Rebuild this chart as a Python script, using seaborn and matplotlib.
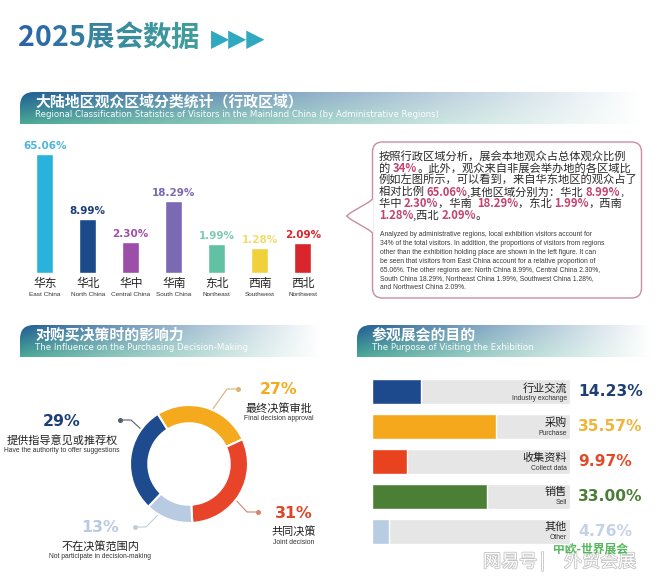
import numpy as np
import seaborn as sns
import matplotlib.pyplot as plt
import matplotlib.patheffects as pe
from matplotlib.patches import FancyBboxPatch, PathPatch
from matplotlib.path import Path
from matplotlib.colors import to_rgb

sns.set_style("white")
plt.rcParams["font.family"] = ["Noto Sans CJK SC", "DejaVu Sans"]

# ---- data ----
region_cn = ["华东", "华北", "华中", "华南", "东北", "西南", "西北"]
region_en = ["East China", "North China", "Central China", "South China",
             "Northeast", "Southwest", "Northwest"]
region_pct = [65.06, 8.99, 2.30, 18.29, 1.99, 1.28, 2.09]
region_colors = ["#29b3dc", "#1b4a8a", "#9b4fa8", "#7b69b3", "#62c1a2", "#f0d13c", "#d8262c"]
region_label_colors = ["#4db6d9", "#1f3f78", "#a04fa8", "#7b69b3", "#7fcab2", "#f2dc6a", "#d8262c"]

decision_cn = ["最终决策审批", "共同决策", "不在决策范围内", "提供指导意见或推荐权"]
decision_en = ["Final decision approval", "Joint decision",
               "Not participate in decision-making", "Have the authority to offer suggestions"]
decision_pct = [27, 31, 13, 29]
decision_colors = ["#f5a91d", "#e8442a", "#b9cbe2", "#1d4b8d"]
decision_label_colors = ["#f5a91d", "#e0432a", "#b9cbe2", "#1d3f78"]
decision_line_colors = ["#d9b473", "#d9826f", "#c4cdd8", "#555f6e"]

purpose_cn = ["行业交流", "采购", "收集资料", "销售", "其他"]
purpose_en = ["Industry exchange", "Purchase", "Collect data", "Sell", "Other"]
purpose_pct = [14.23, 35.57, 9.97, 33.00, 4.76]
purpose_colors = ["#1d4a8c", "#f5a81c", "#e8421e", "#4b7f35", "#b8cce4"]
purpose_label_colors = ["#1f3f72", "#f2b436", "#e14a2a", "#4b7f35", "#c3d2e6"]

HL = "#c4446f"
body_cn = [
    [("按照行政区域分析，展会本地观众占总体观众比例", 0)],
    [("的 ", 0), ("34%", 1), ("。此外，观众来自非展会举办地的各区域比", 0)],
    [("例如左图所示，可以看到，来自华东地区的观众占了", 0)],
    [("相对比例 ", 0), ("65.06%", 1), (",其他区域分别为：华北 ", 0), ("8.99%", 1), (",", 0)],
    [("华中 ", 0), ("2.30%", 1), ("，华南  ", 0), ("18.29%", 1), ("，东北 ", 0), ("1.99%", 1), ("，西南", 0)],
    [("1.28%", 1), (",西北 ", 0), ("2.09%", 1), ("。", 0)],
]
body_en = [
    "Analyzed by administrative regions, local exhibition visitors account for",
    "34% of the total visitors. In addition, the proportions of visitors from regions",
    "other than the exhibition holding place are shown in the left figure. It can",
    "be seen that visitors from East China account for a relative proportion of",
    "65.06%. The other regions are: North China 8.99%, Central China 2.30%,",
    "South China 18.29%, Northeast China 1.99%, Southwest China 1.28%,",
    "and Northwest China 2.09%.",
]

W, H = 660, 582
fig = plt.figure(figsize=(6.6, 5.82), dpi=100)
bg = fig.add_axes([0, 0, 1, 1])
bg.set_xlim(0, W)
bg.set_ylim(H, 0)
bg.axis("off")
renderer = fig.canvas.get_renderer()


def px_axes(x0, y0, x1, y1):
    return fig.add_axes([x0 / W, 1 - y1 / H, (x1 - x0) / W, (y1 - y0) / H])


def rich_text(x, y, parts, size, **kw):
    # draw coloured pieces one after another on the pixel axes
    for s, color, weight in parts:
        t = bg.text(x, y, s, fontsize=size, color=color, fontweight=weight,
                    ha="left", va="center", **kw)
        x += t.get_window_extent(renderer).width
    return x


def banner(x0, y0, x1, y1, title, sub):
    h, w = int(y1 - y0), int(x1 - x0)
    v = np.linspace(0, 1, h)[:, None, None]
    t = np.linspace(0, 1, w)[None, :, None]
    top = np.array(to_rgb("#1d5c92"))
    bot = np.array(to_rgb("#4aa894"))
    base = top * (1 - v) + bot * v
    mix = np.clip(t / 0.97, 0, 1) ** 0.9
    img = np.ones((h, w, 4))
    img[..., :3] = base * (1 - mix) + mix
    r = 14
    verts = [(x0, y1), (x0, y0 + r), (x0, y0), (x0 + r, y0), (x1, y0), (x1, y1), (x0, y1)]
    codes = [Path.MOVETO, Path.LINETO, Path.CURVE3, Path.CURVE3, Path.LINETO,
             Path.LINETO, Path.CLOSEPOLY]
    patch = PathPatch(Path(verts, codes), facecolor="none", edgecolor="none")
    bg.add_patch(patch)
    im = bg.imshow(img, extent=(x0, x1, y1, y0), aspect="auto", zorder=1)
    im.set_clip_path(patch)
    bg.text(x0 + 15, y0 + 10, title, color="white", fontsize=10.7,
            fontweight="bold", va="center", zorder=3)
    bg.text(x0 + 15, y0 + 22.5, sub, color="white", fontsize=6.2,
            family="DejaVu Sans", va="center", zorder=3, alpha=0.95)


# ---- page title ----
title_chars = list("2025展会数据")
c0, c1 = np.array(to_rgb("#2a64a6")), np.array(to_rgb("#3f9c9b"))
parts = []
for k, ch in enumerate(title_chars):
    f = k / (len(title_chars) - 1)
    parts.append((ch, tuple(c0 * (1 - f) + c1 * f), "bold"))
xe = rich_text(18, 38, parts, 20.5)
bg.text(xe + 12, 39, "▶▶▶", color="#30a9c0", fontsize=17, family="DejaVu Sans",
        va="center", ha="left")

# ---- section banners ----
banner(20, 92, 660, 124, "大陆地区观众区域分类统计（行政区域）",
       "Regional Classification Statistics of Visitors in the Mainland China (by Administrative Regions)")
banner(20, 325, 330, 357, "对购买决策时的影响力",
       "The Influence on the Purchasing Decision-Making")
banner(357, 325, 660, 357, "参观展会的目的",
       "The Purpose of Visiting the Exhibition")

# ---- regional bar chart ----
ax1 = px_axes(23.2, 154, 324.2, 273)
sns.barplot(x=region_cn, y=region_pct, hue=region_cn, palette=region_colors,
            legend=False, width=0.4, saturation=1, ax=ax1)
ax1.set_yscale("function", functions=(lambda v: np.sign(v) * np.abs(v) ** 0.4,
                                      lambda v: np.sign(v) * np.abs(v) ** 2.5))
ax1.set_ylim(0, max(region_pct))
ax1.set_xlim(-0.5, len(region_cn) - 0.5)
ax1.axis("off")
for i, v in enumerate(region_pct):
    ax1.annotate(f"{v:.2f}%", (i, v), xytext=(0, 3), textcoords="offset pixels",
                 ha="center", va="bottom", color=region_label_colors[i],
                 fontsize=7.5, fontweight="bold", family="DejaVu Sans",
                 annotation_clip=False)
    ax1.annotate(region_cn[i], (i, 0), xytext=(0, -10), textcoords="offset pixels",
                 ha="center", va="center", color="#222222", fontsize=8.5,
                 annotation_clip=False)
    ax1.annotate(region_en[i], (i, 0), xytext=(0, -21.5), textcoords="offset pixels",
                 ha="center", va="center", color="#333333", fontsize=4.6,
                 family="Liberation Sans", annotation_clip=False)

# ---- description box ----
box = FancyBboxPatch((372.5, 142), 269, 156, boxstyle="round,pad=0,rounding_size=10",
                     facecolor="white", edgecolor="#c98d9f", lw=1.0, zorder=2)
bg.add_patch(box)
ptr_x = [372.5, 369, 351, 346.5, 351, 369, 372.5]
ptr_y = [199, 202, 212.5, 216, 219.5, 230, 233]
bg.fill(ptr_x, ptr_y, color="white", zorder=3)
bg.plot(ptr_x, ptr_y, color="#c98d9f", lw=1.0, zorder=4, solid_capstyle="round")
for li, line in enumerate(body_cn):
    segs = [(s, HL if hl else "#2a2a2a", "bold" if hl else "normal") for s, hl in line]
    rich_text(379, 157 + li * 11.7, segs, 8.1, zorder=5)
for li, line in enumerate(body_en):
    bg.text(380, 235 + li * 8.8, line, fontsize=4.9, color="#3a3a3a",
            family="Liberation Sans", va="center", zorder=5)

# ---- decision donut ----
cx, cy, rad = 189, 464, 59
ax2 = px_axes(cx - rad, cy - rad, cx + rad, cy + rad)
wedges, _ = ax2.pie(decision_pct, colors=decision_colors, startangle=122, counterclock=False,
                    radius=1, wedgeprops=dict(width=0.31, edgecolor="white", linewidth=1.5))
ax2.set_xlim(-1, 1)
ax2.set_ylim(-1, 1)
ax2.set_aspect("equal")

leader_frac = [0.43, 0.44, 0.26, 0.21]
dot_pos = [(238, 389), (258, 512), (135, 527), (120, 420)]
label_pos = [(279, 390), (294, 513), (100, 528), (62, 422)]
for k, w in enumerate(wedges):
    ang = np.deg2rad(w.theta1 + leader_frac[k] * (w.theta2 - w.theta1))
    px, py = cx + (rad + 1) * np.cos(ang), cy - (rad + 1) * np.sin(ang)
    dx, dy = dot_pos[k]
    sx = 1 if dx > px else -1
    ex = dx - sx * 11
    bg.plot([px, ex, dx], [py, dy, dy], color=decision_line_colors[k], lw=0.8, zorder=3)
    bg.plot(dx, dy, "o", ms=2.6, color=decision_line_colors[k], zorder=3)
    lx, ly = label_pos[k]
    bg.text(lx, ly, f"{decision_pct[k]}%", color=decision_label_colors[k],
            fontsize=11.3, fontweight="bold", family="DejaVu Sans", ha="center", va="center")
    bg.text(lx, ly + 18, decision_cn[k], color="#222222", fontsize=8, ha="center", va="center")
    bg.text(lx, ly + 29, decision_en[k], color="#333333", fontsize=4.9,
            family="Liberation Sans", ha="center", va="center")

# ---- purpose bars ----
BG_MAX = 57
ax3 = px_axes(372, 374.6, 570, 548.4)
sns.barplot(x=purpose_pct, y=purpose_cn, hue=purpose_cn, palette=purpose_colors,
            legend=False, orient="h", width=0.72, saturation=1, ax=ax3)
ax3.barh(np.arange(len(purpose_cn)), [BG_MAX] * len(purpose_cn), height=0.72,
         color="#e6e6e6", zorder=0.5)
ax3.set_xlim(0, BG_MAX)
ax3.set_ylim(len(purpose_cn) - 0.5, -0.5)
ax3.axis("off")
for i, v in enumerate(purpose_pct):
    ax3.annotate(f"{v:.2f}%", (BG_MAX, i), xytext=(8, 0), textcoords="offset pixels",
                 ha="left", va="center", color=purpose_label_colors[i], fontsize=11.2,
                 fontweight="bold", family="DejaVu Sans", annotation_clip=False)
    ax3.annotate(purpose_cn[i], (BG_MAX, i), xytext=(-3, 4), textcoords="offset pixels",
                 ha="right", va="center", color="#222222", fontsize=8)
    ax3.annotate(purpose_en[i], (BG_MAX, i), xytext=(-3, -6.5), textcoords="offset pixels",
                 ha="right", va="center", color="#333333", fontsize=4.9,
                 family="Liberation Sans")

# ---- watermark ----
hollow = [pe.withStroke(linewidth=1.2, foreground="#c4c4c4")]
bg.text(510, 562, "网易号", color="white", fontsize=13, ha="center", va="center",
        zorder=6, path_effects=hollow)
bg.text(543, 562, "|", color="white", fontsize=12, ha="center", va="center",
        zorder=6, path_effects=hollow)
bg.text(600, 562, "外贸会展", color="white", fontsize=13, ha="center", va="center",
        zorder=6, path_effects=hollow)
bg.text(590, 549, "中欧-世界展会", color="#45b04c", fontsize=8.5, fontweight="bold",
        ha="center", va="center", zorder=7, alpha=0.9)

fig.savefig("out.png", dpi=100, facecolor="white")
